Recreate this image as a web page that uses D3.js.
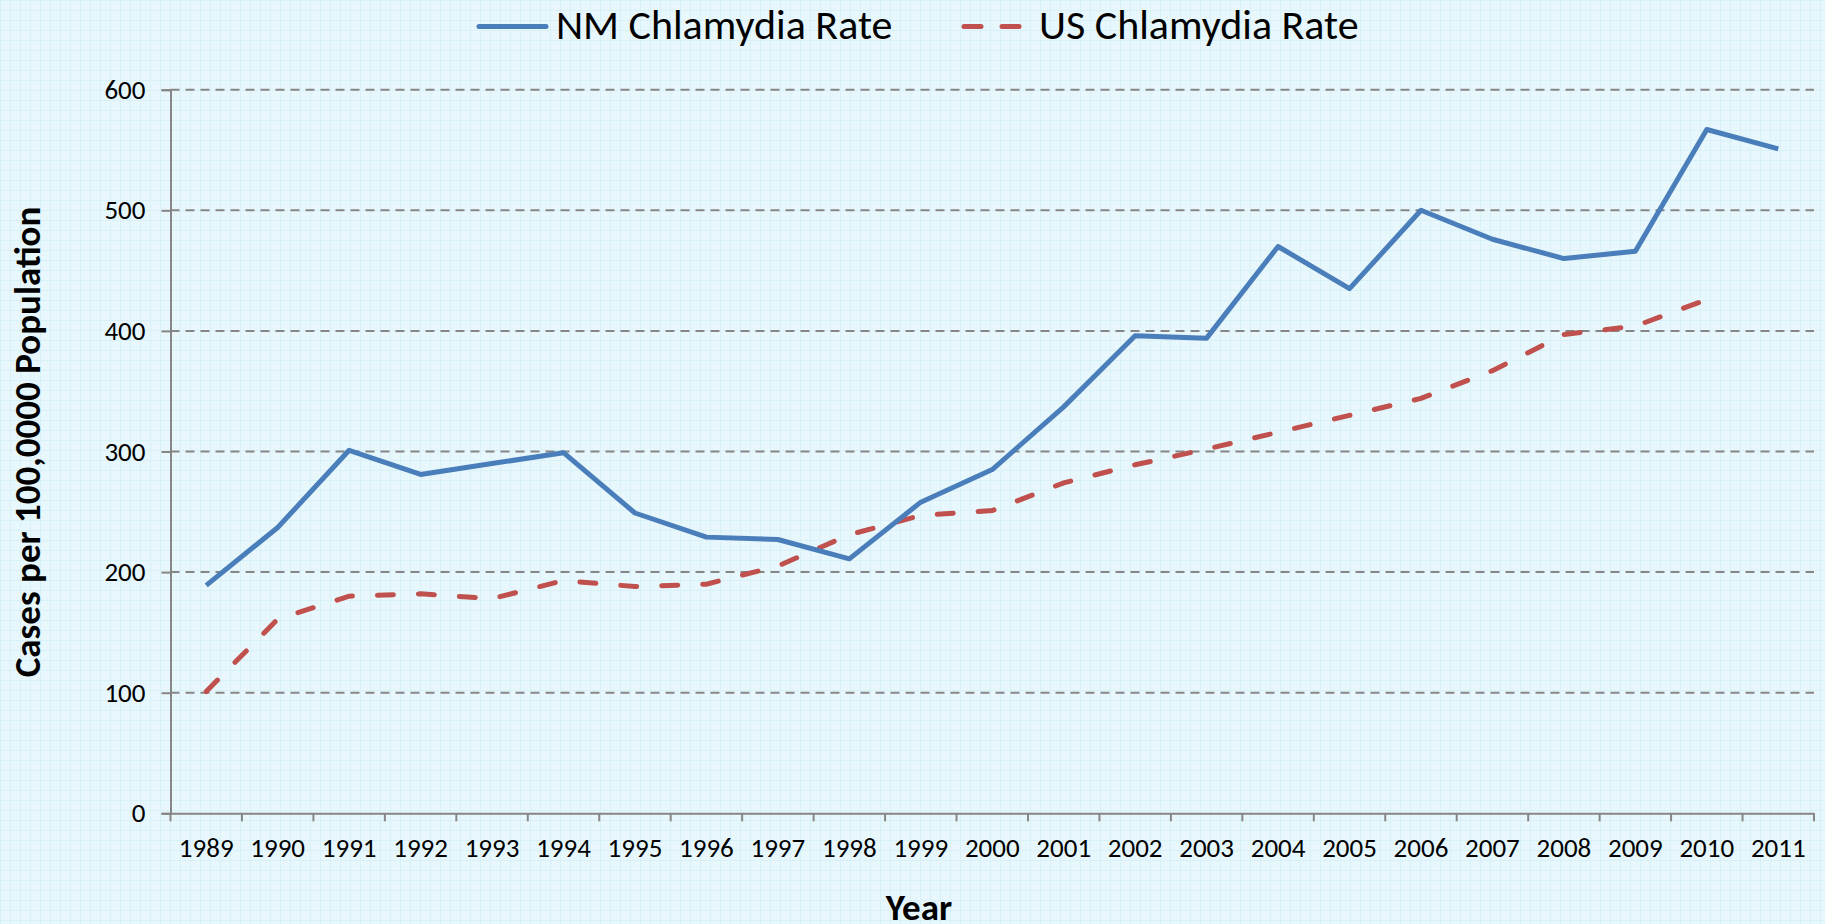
<!DOCTYPE html>
<html>
<head>
<meta charset="utf-8">
<script src="https://cdn.jsdelivr.net/npm/d3@7"></script>
<style>
  html, body { margin: 0; padding: 0; }
  body { width: 1825px; height: 924px; overflow: hidden; }
  text { font-family: Carlito, Calibri, Lato, sans-serif; fill: #000; }
</style>
</head>
<body>
<div id="chart"></div>
<script>
// chart values
const years = ["1989", "1990", "1991", "1992", "1993", "1994", "1995", "1996", "1997", "1998", "1999", "2000",
               "2001", "2002", "2003", "2004", "2005", "2006", "2007", "2008", "2009", "2010", "2011"];
const nmRate = [189, 237, 301, 281, 290, 299, 249, 229, 227, 211, 258, 285,
                337, 396, 394, 470, 435, 500, 476, 460, 466, 567, 551];
const usRate = [101, 161, 180, 182, 178, 193, 188, 190, 205, 231, 247, 251,
                274, 289, 302, 316, 330, 344, 367, 397, 404, 426, null];
const yTicks = [0, 100, 200, 300, 400, 500, 600];
const seriesNames = ["NM Chlamydia Rate", "US Chlamydia Rate"];

const width = 1825;
const height = 924;
const plotLeft = 170.5, plotRight = 1814, plotTop = 89.7, plotBottom = 813.3;

const svg = d3.select("#chart")
    .append("svg")
    .attr("width", width)
    .attr("height", height);

// light grid paper background
const defs = svg.append("defs");
const pat = defs.append("pattern")
    .attr("id", "paper")
    .attr("width", 10)
    .attr("height", 10)
    .attr("patternUnits", "userSpaceOnUse");
pat.append("rect").attr("width", 10).attr("height", 10).attr("fill", "#e8f7fb");
pat.append("path")
    .attr("d", "M0,0.5H10M0.5,0V10")
    .attr("stroke", "#d8f0f8")
    .attr("stroke-width", 1);

svg.append("rect")
    .attr("width", width)
    .attr("height", height)
    .attr("fill", "url(#paper)");

const x = d3.scaleBand().domain(years).range([plotLeft, plotRight]).padding(0);
const y = d3.scaleLinear().domain([0, 600]).range([plotBottom, plotTop]);
const bw = x.bandwidth();

// dashed gridlines
svg.append("g")
    .selectAll("line")
    .data(yTicks.filter(d => d > 0))
    .enter()
    .append("line")
    .attr("x1", plotLeft)
    .attr("x2", plotRight)
    .attr("y1", d => y(d))
    .attr("y2", d => y(d))
    .attr("stroke", "#868686")
    .attr("stroke-width", 2)
    .attr("stroke-dasharray", "9 6");

// y axis
const yAxis = svg.append("g")
    .attr("transform", `translate(${plotLeft},0)`)
    .call(d3.axisLeft(y).tickValues(yTicks).tickSize(9).tickPadding(16));
yAxis.select(".domain").attr("stroke", "#868686").attr("stroke-width", 2);
yAxis.selectAll(".tick line").attr("stroke", "#868686").attr("stroke-width", 2);
yAxis.selectAll(".tick text")
    .attr("font-size", 27)
    .attr("font-family", null)
    .attr("fill", "#000");

// x axis: labels centred in categories, ticks on the boundaries
const xAxis = svg.append("g")
    .attr("transform", `translate(0,${plotBottom})`)
    .call(d3.axisBottom(x).tickSize(0).tickPadding(0));
xAxis.select(".domain").attr("stroke", "#868686").attr("stroke-width", 2);
xAxis.selectAll(".tick text")
    .attr("font-size", 27)
    .attr("font-family", null)
    .attr("fill", "#000")
    .attr("dy", null)
    .attr("y", 44);

const bounds = years.map(d => x(d)).concat([x(years[years.length - 1]) + bw]);
svg.append("g")
    .selectAll("line")
    .data(bounds)
    .enter()
    .append("line")
    .attr("x1", d => d)
    .attr("x2", d => d)
    .attr("y1", plotBottom)
    .attr("y2", plotBottom + 8)
    .attr("stroke", "#868686")
    .attr("stroke-width", 2);

// series lines
const line = d3.line()
    .defined(d => d.v != null)
    .x(d => x(d.year) + bw / 2)
    .y(d => y(d.v));

const nmData = years.map((yr, i) => ({ year: yr, v: nmRate[i] }));
const usData = years.map((yr, i) => ({ year: yr, v: usRate[i] }));

svg.append("path")
    .datum(usData)
    .attr("d", line)
    .attr("fill", "none")
    .attr("stroke", "#c0504d")
    .attr("stroke-width", 5)
    .attr("stroke-linecap", "round")
    .attr("stroke-dasharray", "16 25");

svg.append("path")
    .datum(nmData)
    .attr("d", line)
    .attr("fill", "none")
    .attr("stroke", "#4a7ebb")
    .attr("stroke-width", 5)
    .attr("stroke-linejoin", "round");

// legend
const legend = svg.append("g");
legend.append("line")
    .attr("x1", 479).attr("x2", 546)
    .attr("y1", 26.5).attr("y2", 26.5)
    .attr("stroke", "#4a7ebb")
    .attr("stroke-width", 5)
    .attr("stroke-linecap", "round");
legend.append("text")
    .attr("x", 556).attr("y", 39)
    .attr("font-size", 42)
    .text(seriesNames[0]);
legend.append("line")
    .attr("x1", 964).attr("x2", 1024)
    .attr("y1", 26.5).attr("y2", 26.5)
    .attr("stroke", "#c0504d")
    .attr("stroke-width", 5)
    .attr("stroke-linecap", "round")
    .attr("stroke-dasharray", "17 21");
legend.append("text")
    .attr("x", 1039).attr("y", 39)
    .attr("font-size", 42)
    .text(seriesNames[1]);

// axis titles
svg.append("text")
    .attr("transform", "translate(40,442) rotate(-90)")
    .attr("text-anchor", "middle")
    .attr("font-size", 37)
    .attr("font-weight", "bold")
    .text("Cases per 100,0000 Population");

svg.append("text")
    .attr("x", 919).attr("y", 920)
    .attr("text-anchor", "middle")
    .attr("font-size", 37)
    .attr("font-weight", "bold")
    .text("Year");
</script>
</body>
</html>
